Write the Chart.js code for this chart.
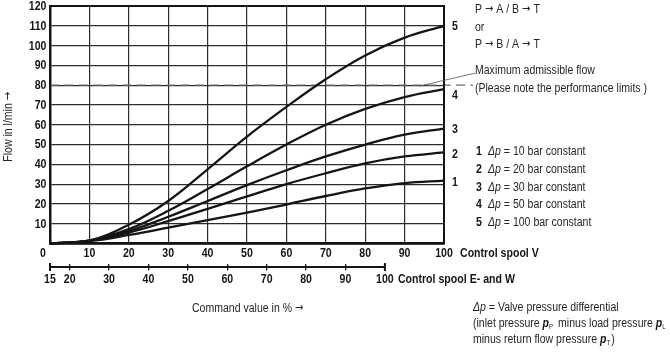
<!DOCTYPE html>
<html><head><meta charset="utf-8">
<script src="https://cdn.jsdelivr.net/npm/chart.js@4/dist/chart.umd.min.js"></script>
<style>html,body{margin:0;padding:0;background:#fff;}#wrap{width:670px;height:355px;position:relative;}</style>
</head><body><div id="wrap"><canvas id="c" width="670" height="355"></canvas></div>
<script>
// ---- data ----
const commandValues = [0, 10, 20, 30, 40, 50, 60, 70, 80, 90, 100];
const flowDp10  = [0, 1.2, 4.3, 8.0, 11.8, 15.6, 19.7, 24, 27.8, 30.5, 31.8];
const flowDp20  = [0, 1.5, 5.5, 11.3, 17.5, 23.8, 30, 35.5, 40.5, 44, 46];
const flowDp30  = [0, 1.5, 6.3, 13.5, 21.5, 29.5, 37, 44, 50, 55, 58];
const flowDp50  = [0, 1.5, 7.3, 16.5, 27.5, 39, 50, 60, 68, 74, 78];
const flowDp100 = [0, 1.5, 9.5, 21.5, 37.5, 54, 69, 83, 95, 104, 110];
const curveNumbers = ['1', '2', '3', '4', '5'];
const pressureDiffs = [10, 20, 30, 50, 100];
const flowTicks = [10, 20, 30, 40, 50, 60, 70, 80, 90, 100, 110, 120];
const spoolVTicks = [0, 10, 20, 30, 40, 50, 60, 70, 80, 90, 100];
const spoolEWTicks = [15, 20, 30, 40, 50, 60, 70, 80, 90, 100];
const maxAdmissibleFlow = 80;

const FONT = '"Liberation Sans", Arial, sans-serif';
const INK = '#151515';
const TXT = '#262626';
const R = 'normal 12px ' + FONT, B = 'bold 12.5px ' + FONT, I = 'italic 12px ' + FONT,
      BI = 'bold italic 12px ' + FONT, S = 'normal 7px ' + FONT, A = 'normal 11.5px "DejaVu Sans", sans-serif';

const allSeries = [flowDp10, flowDp20, flowDp30, flowDp50, flowDp100];
const datasets = allSeries.map((arr, i) => ({
  label: curveNumbers[i],
  data: commandValues.map((x, j) => ({ x: x, y: arr[j] })),
  borderColor: INK,
  borderWidth: 2.3,
  pointRadius: 0,
  tension: 0.4,
  fill: false,
  clip: false
}));

let sxR = 0.84, sxB = 0.84;
function T(ctx, str, x, y, font, sx, align, color) {
  ctx.save();
  ctx.font = font;
  ctx.fillStyle = color || TXT;
  ctx.textBaseline = 'middle';
  ctx.textAlign = 'left';
  const w = ctx.measureText(str).width * sx;
  const dx = align === 'center' ? -w / 2 : (align === 'right' ? -w : 0);
  ctx.translate(x + dx, y);
  ctx.scale(sx, 1);
  ctx.fillText(str, 0, 0);
  ctx.restore();
  return w;
}
function expand(parts) {
  const out = [];
  for (const p of parts) {
    const segs = p.t.split('\u2192');
    segs.forEach((s, k) => {
      if (s) out.push(Object.assign({}, p, { t: s }));
      if (k < segs.length - 1) out.push({ t: '\u2192', f: A, c: p.c, dy: -0.5 });
    });
  }
  return out;
}
function partWidth(ctx, p) {
  ctx.font = p.f;
  return ctx.measureText(p.t).width * (p.f === B ? sxB : sxR) + (p.gap || 0);
}
function runs(ctx, x, y, parts, align) {
  const list = expand(parts);
  let total = 0;
  list.forEach(p => { total += partWidth(ctx, p); });
  let cx = align === 'center' ? x - total / 2 : x;
  for (const p of list) {
    const sx = p.f === B ? sxB : sxR;
    cx += T(ctx, p.t, cx, y + (p.dy || 0), p.f, sx, 'left', p.c) + (p.gap || 0);
  }
  return cx;
}

const decor = {
  id: 'decor',
  beforeDatasetsDraw(chart) {
    const ctx = chart.ctx, y = chart.scales.y, a = chart.chartArea;
    const yy = y.getPixelForValue(maxAdmissibleFlow);
    ctx.save();
    ctx.strokeStyle = '#6a6a6a';
    ctx.lineWidth = 1.4;
    ctx.setLineDash([9, 5.5]);
    ctx.beginPath(); ctx.moveTo(a.left, yy); ctx.lineTo(a.right + 29, yy); ctx.stroke();
    ctx.restore();
  },
  afterDraw(chart) {
    const ctx = chart.ctx, x = chart.scales.x, y = chart.scales.y, x2 = chart.scales.x2, a = chart.chartArea;
    ctx.save();
    ctx.font = R; sxR = 172 / ctx.measureText('(Please note the performance limits )').width;
    ctx.font = B; sxB = 117 / ctx.measureText('Control spool E- and W').width;
    // plot frame
    ctx.strokeStyle = INK; ctx.lineWidth = 2;
    ctx.strokeRect(a.left, a.top, a.right - a.left, a.bottom - a.top);
    // y tick labels
    flowTicks.forEach(v => T(ctx, String(v), a.left - 3.5, y.getPixelForValue(v) + 0.5, B, sxB, 'right', INK));
    // x tick labels (control spool V)
    spoolVTicks.forEach(v => {
      const px = x.getPixelForValue(v) + (v === 0 ? -7 : 0);
      T(ctx, String(v), px, a.bottom + 10, B, sxB, 'center', INK);
    });
    T(ctx, 'Control spool V', x.getPixelForValue(100) + 16, a.bottom + 10, B, sxB, 'left', INK);
    // secondary axis (control spool E and W)
    const ly = x2.top + 3.5;
    const l0 = x2.getPixelForValue(spoolEWTicks[0]), l1 = x2.getPixelForValue(spoolEWTicks[spoolEWTicks.length - 1]);
    ctx.strokeStyle = INK; ctx.lineWidth = 2.2;
    ctx.beginPath(); ctx.moveTo(l0, ly); ctx.lineTo(l1, ly); ctx.stroke();
    ctx.lineWidth = 2;
    ctx.beginPath(); ctx.moveTo(l0, ly - 4); ctx.lineTo(l0, ly + 4); ctx.moveTo(l1, ly - 4); ctx.lineTo(l1, ly + 4); ctx.stroke();
    spoolEWTicks.forEach(v => T(ctx, String(v), x2.getPixelForValue(v), x2.top + 16.5, B, sxB, 'center', INK));
    T(ctx, 'Control spool E- and W', l1 + 13, x2.top + 16.5, B, sxB, 'left', INK);
    // curve numbers
    const offs = [2, 2, 1, 6, 1];
    allSeries.forEach((arr, i) => {
      T(ctx, curveNumbers[i], a.right + 8, y.getPixelForValue(arr[arr.length - 1]) + offs[i], B, sxB, 'left', INK);
    });
    // leader for max flow
    const yy = y.getPixelForValue(maxAdmissibleFlow);
    ctx.strokeStyle = '#555'; ctx.lineWidth = 0.8;
    ctx.beginPath(); ctx.moveTo(a.right - 25, yy + 1); ctx.lineTo(a.right + 31, yy - 12); ctx.stroke();
    // y-axis title
    ctx.save();
    ctx.translate(9, (a.top + a.bottom) / 2 + 2);
    ctx.rotate(-Math.PI / 2);
    runs(ctx, 0, 0, [{ t: 'Flow in l/min \u2192', f: R }], 'center');
    ctx.restore();
    // right-hand texts
    runs(ctx, 475, 10, [{ t: 'P \u2192 A / B \u2192 T', f: R }]);
    runs(ctx, 475, 28, [{ t: 'or', f: R }]);
    runs(ctx, 475, 45, [{ t: 'P \u2192 B / A \u2192 T', f: R }]);
    runs(ctx, 475, 71, [{ t: 'Maximum admissible flow', f: R }]);
    runs(ctx, 475, 89, [{ t: '(Please note the performance limits )', f: R }]);
    pressureDiffs.forEach((dp, i) => {
      const ty = 152 + i * 17.6;
      runs(ctx, 476, ty, [{ t: curveNumbers[i], f: B, c: INK }]);
      runs(ctx, 488, ty, [{ t: '\u0394p', f: I }, { t: ' = ' + dp + ' bar constant', f: R }]);
    });
    runs(ctx, 473, 308, [{ t: '\u0394p', f: I }, { t: ' = Valve pressure differential', f: R }]);
    runs(ctx, 473, 324, [{ t: '(inlet pressure ', f: R }, { t: 'p', f: BI, c: INK }, { t: 'P', f: S, dy: 3, gap: 2 },
      { t: ' minus load pressure ', f: R }, { t: 'p', f: BI, c: INK }, { t: 'L', f: S, dy: 3 }]);
    runs(ctx, 473, 340, [{ t: 'minus return flow pressure ', f: R }, { t: 'p', f: BI, c: INK }, { t: 'T', f: S, dy: 3, gap: 1 }, { t: ')', f: R }]);
    runs(ctx, 192, 309, [{ t: 'Command value in % \u2192', f: R }]);
    ctx.restore();
  }
};

new Chart(document.getElementById('c'), {
  type: 'line',
  data: { datasets: datasets },
  options: {
    responsive: false,
    animation: false,
    devicePixelRatio: 1,
    layout: { padding: { top: 6, right: 226, left: 0, bottom: 0 } },
    plugins: { legend: { display: false }, tooltip: { enabled: false } },
    scales: {
      x: {
        type: 'linear', position: 'bottom', min: 0, max: 100,
        afterBuildTicks: s => { s.ticks = spoolVTicks.map(v => ({ value: v })); },
        ticks: { display: false },
        grid: { color: '#2c2c2c', lineWidth: 1.2, drawTicks: false },
        border: { display: true, color: INK, width: 2.5 },
        afterFit: s => { s.height = 20; }
      },
      x2: {
        type: 'linear', position: 'bottom', min: 15, max: 115,
        afterBuildTicks: s => { s.ticks = spoolEWTicks.map(v => ({ value: v })); },
        ticks: { display: false },
        grid: { drawOnChartArea: false, drawTicks: true, tickLength: 7, color: INK, lineWidth: 1.3 },
        border: { display: false },
        afterFit: s => { s.height = 91.5; }
      },
      y: {
        type: 'linear', position: 'left', min: 0, max: 120,
        afterBuildTicks: s => { s.ticks = [0].concat(flowTicks).map(v => ({ value: v })); },
        ticks: { display: false },
        grid: { color: '#2c2c2c', lineWidth: 1.2, drawTicks: false },
        border: { display: true, color: INK, width: 2.5 },
        afterFit: s => { s.width = 50; }
      }
    }
  },
  plugins: [decor]
});
</script></body></html>
